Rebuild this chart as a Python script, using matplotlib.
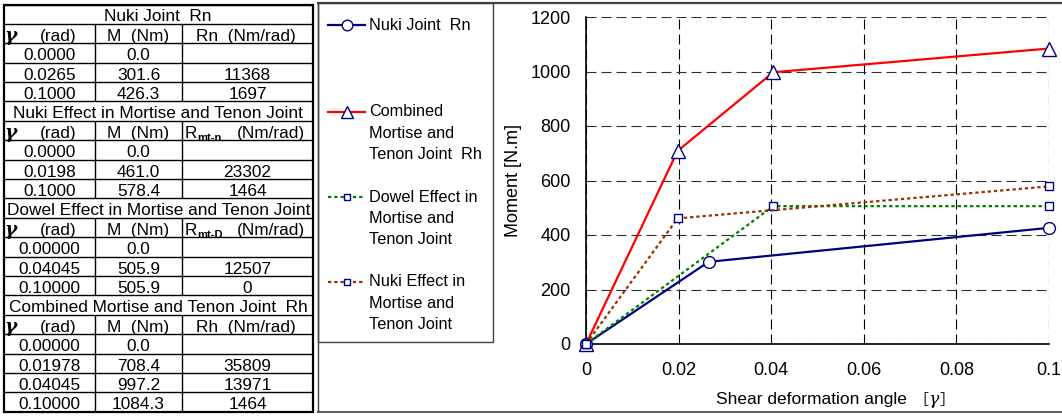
import matplotlib
matplotlib.use('Agg')
import matplotlib.pyplot as plt
from matplotlib.lines import Line2D
from matplotlib.patches import Rectangle

plt.rcParams['font.family'] = ['Liberation Sans', 'DejaVu Sans']

# ---------------- data ----------------
nuki_gamma = [0.0, 0.0265, 0.1]
nuki_M = [0.0, 301.6, 426.3]
nuki_R = [None, 11368, 1697]

nukieff_gamma = [0.0, 0.0198, 0.1]
nukieff_M = [0.0, 461.0, 578.4]
nukieff_R = [None, 23302, 1464]

dowel_gamma = [0.0, 0.04045, 0.1]
dowel_M = [0.0, 505.9, 505.9]
dowel_R = [None, 12507, 0]

comb_gamma = [0.0, 0.01978, 0.04045, 0.1]
comb_M = [0.0, 708.4, 997.2, 1084.3]
comb_R = [None, 35809, 13971, 1464]

x_ticks = [0, 0.02, 0.04, 0.06, 0.08, 0.1]
x_ticklabels = ['0', '0.02', '0.04', '0.06', '0.08', '0.1']
y_ticks = [0, 200, 400, 600, 800, 1000, 1200]

W, H = 1062, 416
fig = plt.figure(figsize=(W / 100, H / 100), dpi=100)
renderer = fig.canvas.get_renderer()


def fx(x):
    return x / W


def fy(y):
    return 1 - y / H


def hline(x0, x1, y, lw=1.0, color='black'):
    fig.add_artist(Line2D([fx(x0), fx(x1)], [fy(y), fy(y)], transform=fig.transFigure,
                          color=color, lw=lw, solid_capstyle='butt'))


def vline(x, y0, y1, lw=1.0, color='black'):
    fig.add_artist(Line2D([fx(x), fx(x)], [fy(y0), fy(y1)], transform=fig.transFigure,
                          color=color, lw=lw, solid_capstyle='butt'))


def txt(x, y, s, **kw):
    return fig.text(fx(x), fy(y), s, **kw)


def width_of(t):
    return t.get_window_extent(renderer).width


# ---------------- table ----------------
TL, TR, TT, TB = 3.5, 313, 4.5, 411.7
C1, C2 = 95, 182
nrows = 21
rh = (TB - TT) / nrows
FS = 12.4

blocks = [
    ('Nuki Joint  Rn', 'Rn', '', nuki_gamma, nuki_M, nuki_R, 4),
    ('Nuki Effect in Mortise and Tenon Joint', 'R', 'mt-n', nukieff_gamma, nukieff_M, nukieff_R, 4),
    ('Dowel Effect in Mortise and Tenon Joint', 'R', 'mt-D', dowel_gamma, dowel_M, dowel_R, 5),
    ('Combined Mortise and Tenon Joint  Rh', 'Rh', '', comb_gamma, comb_M, comb_R, 5),
]

row = 0
for title, rname, rsub, g, m, r, nd in blocks:
    # title row
    ytop = TT + row * rh
    hline(TL, TR, ytop)
    txt((TL + TR) / 2, ytop + rh - 2.4, title, ha='center', va='baseline', fontsize=FS)
    row += 1
    # header row
    ytop = TT + row * rh
    hline(TL, TR, ytop)
    vline(C1, ytop, ytop + rh)
    vline(C2, ytop, ytop + rh)
    yb = ytop + rh - 2.4
    txt(11, yb, 'γ', ha='center', va='baseline', fontsize=FS + 1,
        family='DejaVu Serif', fontweight='bold', style='italic')
    txt(58, yb, '(rad)', ha='center', va='baseline', fontsize=FS)
    txt((C1 + C2) / 2, yb, 'M  (Nm)', ha='center', va='baseline', fontsize=FS)
    if rsub:
        t1 = txt(185, yb, rname, ha='left', va='baseline', fontsize=FS)
        w = width_of(t1)
        txt(185 + w, yb + 3.5, rsub, ha='left', va='baseline', fontsize=8, fontweight='bold')
        txt(305, yb, '(Nm/rad)', ha='right', va='baseline', fontsize=FS)
    else:
        txt((C2 + TR) / 2 - 2, yb, rname + '  (Nm/rad)', ha='center', va='baseline', fontsize=FS)
    row += 1
    for gi, mi, ri in zip(g, m, r):
        ytop = TT + row * rh
        hline(TL, TR, ytop)
        vline(C1, ytop, ytop + rh)
        vline(C2, ytop, ytop + rh)
        yb = ytop + rh - 2.4
        txt((TL + C1) / 2, yb, f'{gi:.{nd}f}', ha='center', va='baseline', fontsize=FS)
        txt((C1 + C2) / 2, yb, f'{mi:.1f}', ha='center', va='baseline', fontsize=FS)
        if ri is not None:
            txt((C2 + TR) / 2, yb, f'{ri:d}', ha='center', va='baseline', fontsize=FS)
        row += 1

# outer table border
fig.add_artist(Rectangle((fx(TL), fy(TB)), fx(TR) - fx(TL), fy(TT) - fy(TB),
                         transform=fig.transFigure, fill=False, ec='black', lw=1.6))

# ---------------- chart panel frame ----------------
PC = '#404040'
hline(317, 1062, 3.2, lw=1.6, color=PC)
hline(317, 1062, 411.7, lw=1.2, color=PC)
vline(317.5, 3, 412, lw=1.0, color=PC)
# legend box
fig.add_artist(Rectangle((fx(317.5), fy(342)), fx(493) - fx(317.5), fy(3.2) - fy(342),
                         transform=fig.transFigure, fill=False, ec=PC, lw=1.0))

# ---------------- chart ----------------
NAVY = '#000080'
RED = '#FF0000'
GREEN = '#008000'
BROWN = '#993300'
dot = (0, (1.5, 1.3))

series = [
    dict(x=nuki_gamma, y=nuki_M, color=NAVY, ls='-', marker='o', ms=8.5, lw=1.6,
         label=['Nuki Joint  Rn']),
    dict(x=comb_gamma, y=comb_M, color=RED, ls='-', marker='^', ms=9.5, lw=1.6,
         label=['Combined', 'Mortise and', 'Tenon Joint  Rh']),
    dict(x=dowel_gamma, y=dowel_M, color=GREEN, ls=dot, marker='s', ms=5.5, lw=1.6,
         label=['Dowel Effect in', 'Mortise and', 'Tenon Joint']),
    dict(x=nukieff_gamma, y=nukieff_M, color=BROWN, ls=dot, marker='s', ms=5.5, lw=1.6,
         label=['Nuki Effect in', 'Mortise and', 'Tenon Joint']),
]

ax = fig.add_axes([fx(586), fy(344), fx(1049) - fx(586), fy(17) - fy(344)])
for s in series:
    ax.plot(s['x'], s['y'], color=s['color'], linestyle=s['ls'], lw=s['lw'],
            marker=s['marker'], ms=s['ms'], mfc='white', mec=NAVY, mew=1.0,
            clip_on=False, zorder=3)

ax.set_xlim(0, 0.1)
ax.set_ylim(0, 1200)
ax.set_xticks(x_ticks)
ax.set_xticklabels(x_ticklabels)
ax.set_yticks(y_ticks)
ax.tick_params(axis='both', length=0, labelsize=13)
ax.tick_params(axis='x', pad=13)
ax.tick_params(axis='y', pad=11)
ax.xaxis.grid(True, color='black', linestyle=(0, (9, 4.5)), lw=0.8)
ax.yaxis.grid(True, color='#303030', linestyle=(0, (9, 4.5)), lw=0.8)
ax.set_axisbelow(True)
for sp in ['top', 'right']:
    ax.spines[sp].set_visible(False)
for sp in ['left', 'bottom']:
    ax.spines[sp].set_linewidth(1.2)
    ax.spines[sp].set_zorder(2.5)

# axis labels
txt(513, 180.5, 'Moment [N.m]', rotation=90, ha='center', va='center', fontsize=13)
pieces = [('Shear deformation angle', dict()),
          ('  ［', dict(family=['Noto Sans CJK JP'], fontsize=11)),
          ('γ', dict(family=['DejaVu Serif'], style='italic')),
          ('］', dict(family=['Noto Sans CJK JP'], fontsize=11))]
objs = []
for s, kw in pieces:
    kw = dict(kw)
    fsz = kw.pop('fontsize', 12.5)
    objs.append(txt(0, 398, s, ha='left', va='center_baseline', fontsize=fsz, **kw))
widths = [width_of(o) for o in objs]
total = sum(widths)
xcur = 835 - total / 2
for o, w in zip(objs, widths):
    o.set_x(fx(xcur))
    xcur += w

# ---------------- legend (manual) ----------------
leg_y = [25, 112, 197, 282]
for s, ly in zip(series, leg_y):
    fig.add_artist(Line2D([fx(328), fx(365)], [fy(ly), fy(ly)], transform=fig.transFigure,
                          color=s['color'], linestyle=s['ls'], lw=s['lw']))
    fig.add_artist(Line2D([fx(347)], [fy(ly)], transform=fig.transFigure, linestyle='none',
                          marker=s['marker'], ms=s['ms'] * 0.9, mfc='white', mec=NAVY, mew=1.0))
    for i, line in enumerate(s['label']):
        txt(369, ly + i * 21.3, line, ha='left', va='center', fontsize=11.7)

fig.savefig('out.png', dpi=100)
